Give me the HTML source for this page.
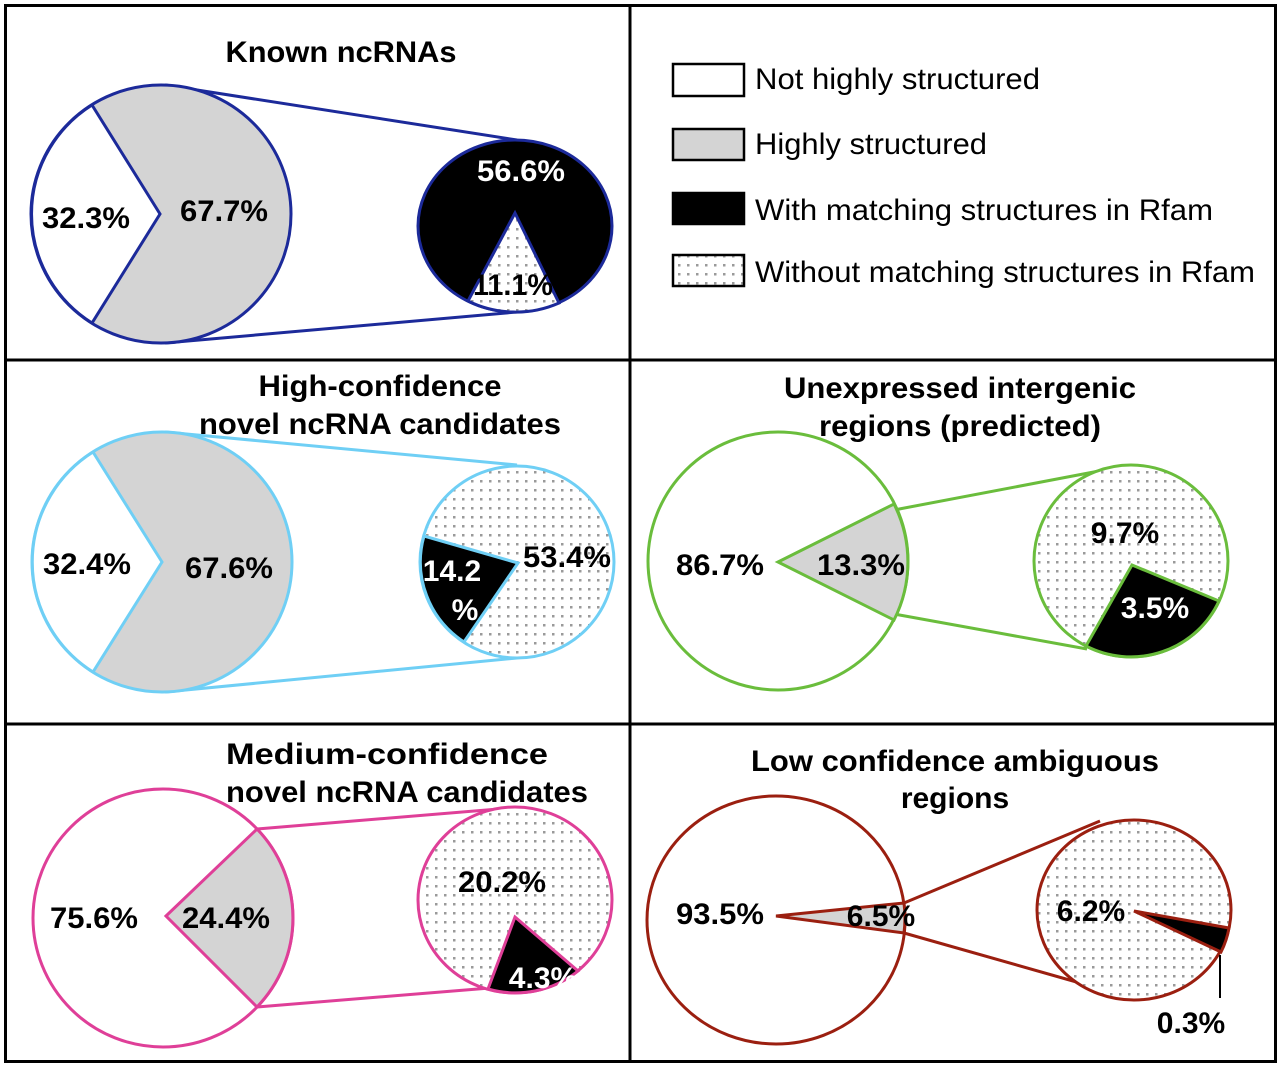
<!DOCTYPE html>
<html><head><meta charset="utf-8"><style>
html,body{margin:0;padding:0;background:#fff}
svg{display:block}
text{font-family:"Liberation Sans",Arial,sans-serif}
.t{font-weight:bold;font-size:30px;text-anchor:middle}
.l{font-weight:bold;font-size:30px;text-anchor:middle}
.g{font-size:30px}
</style></head><body>
<svg width="1280" height="1070" viewBox="0 0 1280 1070" xmlns="http://www.w3.org/2000/svg">
<defs>
<pattern id="dot" width="9" height="9" patternUnits="userSpaceOnUse">
<rect width="9" height="9" fill="#fff"/>
<rect x="3" y="3" width="2.5" height="2.5" fill="#9a9a9a"/>
</pattern>
</defs>
<rect x="0" y="0" width="1280" height="1070" fill="#fff"/>
<rect x="5.5" y="5.5" width="1270" height="1056" fill="none" stroke="#000" stroke-width="3"/>
<line x1="630" y1="5" x2="630" y2="1062" stroke="#000" stroke-width="3"/>
<line x1="5" y1="360" x2="1276" y2="360" stroke="#000" stroke-width="3"/>
<line x1="5" y1="724" x2="1276" y2="724" stroke="#000" stroke-width="3"/>

<!-- Panel 1 -->
<g stroke="#1c2a9a" stroke-width="3">
<line x1="165" y1="85" x2="517" y2="140"/>
<line x1="165" y1="343" x2="517" y2="312"/>
<ellipse cx="161" cy="214" rx="130" ry="129" fill="#d4d4d4"/>
<path d="M92,105 L160,214 L92,323 A130,129 0 0 1 92,105 Z" fill="#fff"/>
<ellipse cx="515" cy="226" rx="97" ry="86" fill="#000"/>
<path d="M515,213 L468,301 A97,86 0 0 0 559,303 Z" fill="url(#dot)"/>
</g>
<text class="t" x="341" y="62" textLength="231" lengthAdjust="spacingAndGlyphs">Known ncRNAs</text>
<text class="l" x="86" y="228" textLength="88" lengthAdjust="spacingAndGlyphs">32.3%</text>
<text class="l" x="224" y="221" textLength="88" lengthAdjust="spacingAndGlyphs">67.7%</text>
<text class="l" x="521" y="181" fill="#fff" textLength="88" lengthAdjust="spacingAndGlyphs">56.6%</text>
<text class="l" x="513" y="295" textLength="80" lengthAdjust="spacingAndGlyphs">11.1%</text>

<!-- Legend -->
<g stroke="#000" stroke-width="2.5">
<rect x="673" y="64" width="71" height="32" fill="#fff"/>
<rect x="673" y="129" width="71" height="31" fill="#d4d4d4"/>
<rect x="673" y="193" width="71" height="31" fill="#000"/>
<rect x="673" y="255" width="71" height="31" fill="url(#dot)"/>
</g>
<text class="g" x="755" y="89" textLength="285" lengthAdjust="spacingAndGlyphs">Not highly structured</text>
<text class="g" x="755" y="154" textLength="232" lengthAdjust="spacingAndGlyphs">Highly structured</text>
<text class="g" x="755" y="220" textLength="458" lengthAdjust="spacingAndGlyphs">With matching structures in Rfam</text>
<text class="g" x="755" y="282" textLength="500" lengthAdjust="spacingAndGlyphs">Without matching structures in Rfam</text>

<!-- Panel 3 -->
<g stroke="#6fcff5" stroke-width="3">
<line x1="165" y1="432" x2="517" y2="465"/>
<line x1="165" y1="692" x2="517" y2="658"/>
<ellipse cx="162" cy="562" rx="130" ry="130" fill="#d4d4d4"/>
<path d="M93,452 L162,562 L93,672 A130,130 0 0 1 93,452 Z" fill="#fff"/>
<ellipse cx="517" cy="562" rx="97" ry="96" fill="url(#dot)"/>
<path d="M518,563 L424,536 A97,96 0 0 0 464,642 Z" fill="#000"/>
</g>
<text class="t" x="380" y="396" textLength="243" lengthAdjust="spacingAndGlyphs">High-confidence</text>
<text class="t" x="380" y="434" textLength="362" lengthAdjust="spacingAndGlyphs">novel ncRNA candidates</text>
<text class="l" x="87" y="574" textLength="88" lengthAdjust="spacingAndGlyphs">32.4%</text>
<text class="l" x="229" y="578" textLength="88" lengthAdjust="spacingAndGlyphs">67.6%</text>
<text class="l" x="452" y="581" fill="#fff">14.2</text>
<text class="l" x="465" y="620" fill="#fff">%</text>
<text class="l" x="567" y="567" textLength="88" lengthAdjust="spacingAndGlyphs">53.4%</text>

<!-- Panel 4 -->
<g stroke="#6abd3c" stroke-width="3">
<line x1="894" y1="510" x2="1120" y2="467"/>
<line x1="894" y1="614" x2="1087" y2="649"/>
<ellipse cx="778" cy="561" rx="130" ry="129" fill="#fff"/>
<path d="M778,562 L894,504 A130,129 0 0 1 894,620 Z" fill="#d4d4d4"/>
<ellipse cx="1131" cy="561" rx="97" ry="96" fill="url(#dot)"/>
<path d="M1132,565 L1219,601 A97,96 0 0 1 1086,646 Z" fill="#000"/>
</g>
<text class="t" x="960" y="398" textLength="352" lengthAdjust="spacingAndGlyphs">Unexpressed intergenic</text>
<text class="t" x="960" y="436" textLength="282" lengthAdjust="spacingAndGlyphs">regions (predicted)</text>
<text class="l" x="720" y="575" textLength="88" lengthAdjust="spacingAndGlyphs">86.7%</text>
<text class="l" x="861" y="575" textLength="88" lengthAdjust="spacingAndGlyphs">13.3%</text>
<text class="l" x="1125" y="543">9.7%</text>
<text class="l" x="1155" y="618" fill="#fff">3.5%</text>

<!-- Panel 5 -->
<g stroke="#df3f98" stroke-width="3">
<line x1="257" y1="829" x2="510" y2="808"/>
<line x1="257" y1="1007" x2="490" y2="988"/>
<ellipse cx="163" cy="918" rx="130" ry="129" fill="#fff"/>
<path d="M166,916 L257,829 A130,129 0 0 1 257,1007 Z" fill="#d4d4d4"/>
<ellipse cx="515" cy="900" rx="97" ry="93" fill="url(#dot)"/>
<path d="M515,917 L578,971 A97,93 0 0 1 488,989 Z" fill="#000"/>
</g>
<text class="t" x="387" y="764" textLength="322" lengthAdjust="spacingAndGlyphs">Medium-confidence</text>
<text class="t" x="407" y="802" textLength="362" lengthAdjust="spacingAndGlyphs">novel ncRNA candidates</text>
<text class="l" x="94" y="928" textLength="88" lengthAdjust="spacingAndGlyphs">75.6%</text>
<text class="l" x="226" y="928" textLength="88" lengthAdjust="spacingAndGlyphs">24.4%</text>
<text class="l" x="502" y="892" textLength="88" lengthAdjust="spacingAndGlyphs">20.2%</text>
<text class="l" x="543" y="988" fill="#fff">4.3%</text>

<!-- Panel 6 -->
<g stroke="#9b1f10" stroke-width="3">
<line x1="904" y1="903" x2="1100" y2="821"/>
<line x1="904" y1="933" x2="1087" y2="985"/>
<ellipse cx="776" cy="920" rx="129" ry="124" fill="#fff"/>
<path d="M776,916 L904,903 A129,124 0 0 1 904,933 Z" fill="#d4d4d4"/>
<ellipse cx="1134" cy="910" rx="97" ry="90" fill="url(#dot)"/>
<path d="M1134,911 L1229,928 A97,90 0 0 1 1221,952 Z" fill="#000"/>
</g>
<line x1="1220" y1="955" x2="1220" y2="998" stroke="#000" stroke-width="2"/>
<text class="t" x="955" y="771" textLength="408" lengthAdjust="spacingAndGlyphs">Low confidence ambiguous</text>
<text class="t" x="955" y="808">regions</text>
<text class="l" x="720" y="924" textLength="88" lengthAdjust="spacingAndGlyphs">93.5%</text>
<text class="l" x="881" y="926">6.5%</text>
<text class="l" x="1091" y="921">6.2%</text>
<text class="l" x="1191" y="1033">0.3%</text>
</svg>
</body></html>
